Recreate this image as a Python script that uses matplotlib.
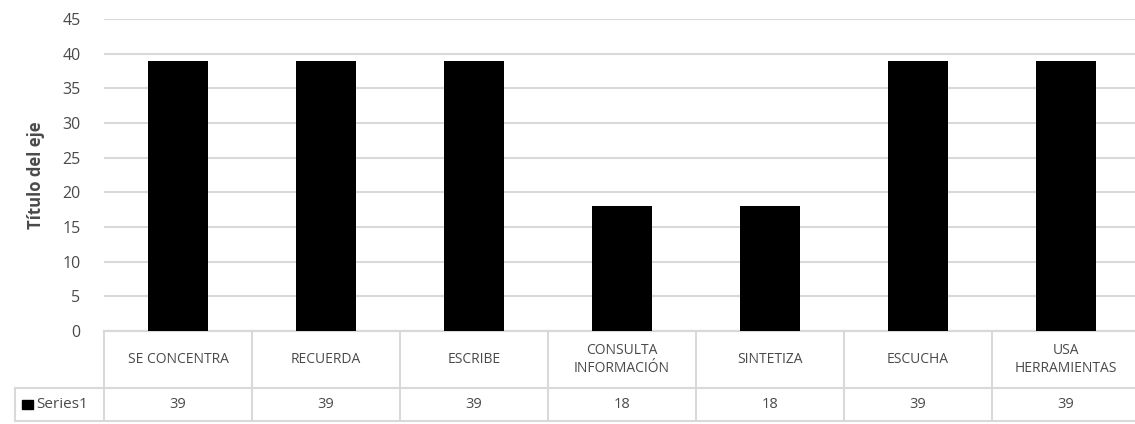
import matplotlib.pyplot as plt
from matplotlib.transforms import blended_transform_factory
from matplotlib.lines import Line2D
from matplotlib.patches import Rectangle

# categories and counts
categorias = ['SE CONCENTRA', 'RECUERDA', 'ESCRIBE', 'CONSULTA\nINFORMACIÓN',
              'SINTETIZA', 'ESCUCHA', 'USA\nHERRAMIENTAS']
valores = [39, 39, 39, 18, 18, 39, 39]
serie = 'Series1'

gris_texto = '#4a4a4a'
gris_linea = '#d9d9d9'
plt.rcParams['font.family'] = ['Open Sans', 'DejaVu Sans']

fig = plt.figure(figsize=(11.35, 4.24), dpi=100)
W, H = 1135, 424
ax = fig.add_axes([104 / W, (H - 331) / H, 1036 / W, 312 / H])

x = list(range(len(categorias)))
ax.bar(x, valores, width=0.4, color='black', zorder=3)

ax.set_xlim(-0.5, len(categorias) - 0.5)
ax.set_ylim(0, 45)
ax.set_yticks(range(0, 46, 5))
ax.yaxis.grid(True, color=gris_linea, linewidth=1.5, zorder=0)
ax.set_xticks([])
ax.tick_params(axis='y', length=0, pad=17, labelsize=11.5, labelcolor=gris_texto)
for s in ['top', 'right', 'left']:
    ax.spines[s].set_visible(False)
ax.spines['bottom'].set_color(gris_linea)
ax.spines['bottom'].set_linewidth(1.5)
ax.set_ylabel('Título del eje', fontsize=12, fontweight='bold', color=gris_texto, labelpad=12)

# data table under the plot
tr = blended_transform_factory(ax.transData, ax.transAxes)
px = 1 / 312
y1 = -57 * px   # bottom of category row
y2 = -90 * px   # bottom of value row
x_izq = -0.5 - 89 / 148
x_der = len(categorias) - 0.5
lk = dict(color=gris_linea, linewidth=1.5, transform=tr, clip_on=False)

ax.add_line(Line2D([-0.5, x_der], [0, 0], **lk))
ax.add_line(Line2D([x_izq, x_der], [y1, y1], **lk))
ax.add_line(Line2D([x_izq, x_der], [y2, y2], **lk))
ax.add_line(Line2D([x_izq, x_izq], [y1, y2], **lk))
for i in range(len(categorias) + 1):
    ax.add_line(Line2D([i - 0.5, i - 0.5], [0, y2], **lk))

for i, (c, v) in enumerate(zip(categorias, valores)):
    ax.text(i, y1 / 2, c, transform=tr, ha='center', va='center', fontsize=10,
            color=gris_texto, linespacing=1.3, clip_on=False)
    ax.text(i, (y1 + y2) / 2, str(v), transform=tr, ha='center', va='center',
            fontsize=10.5, color=gris_texto, clip_on=False)

# legend key in the table
ax.add_patch(Rectangle((x_izq + 7 / 148, (y1 + y2) / 2 - 4.5 * px), 11 / 148, 9 * px,
                       transform=tr, color='black', clip_on=False))
ax.text(x_izq + 21 / 148, (y1 + y2) / 2, serie, transform=tr, ha='left', va='center',
        fontsize=11, color=gris_texto, clip_on=False)

fig.savefig('out.png', dpi=100)
